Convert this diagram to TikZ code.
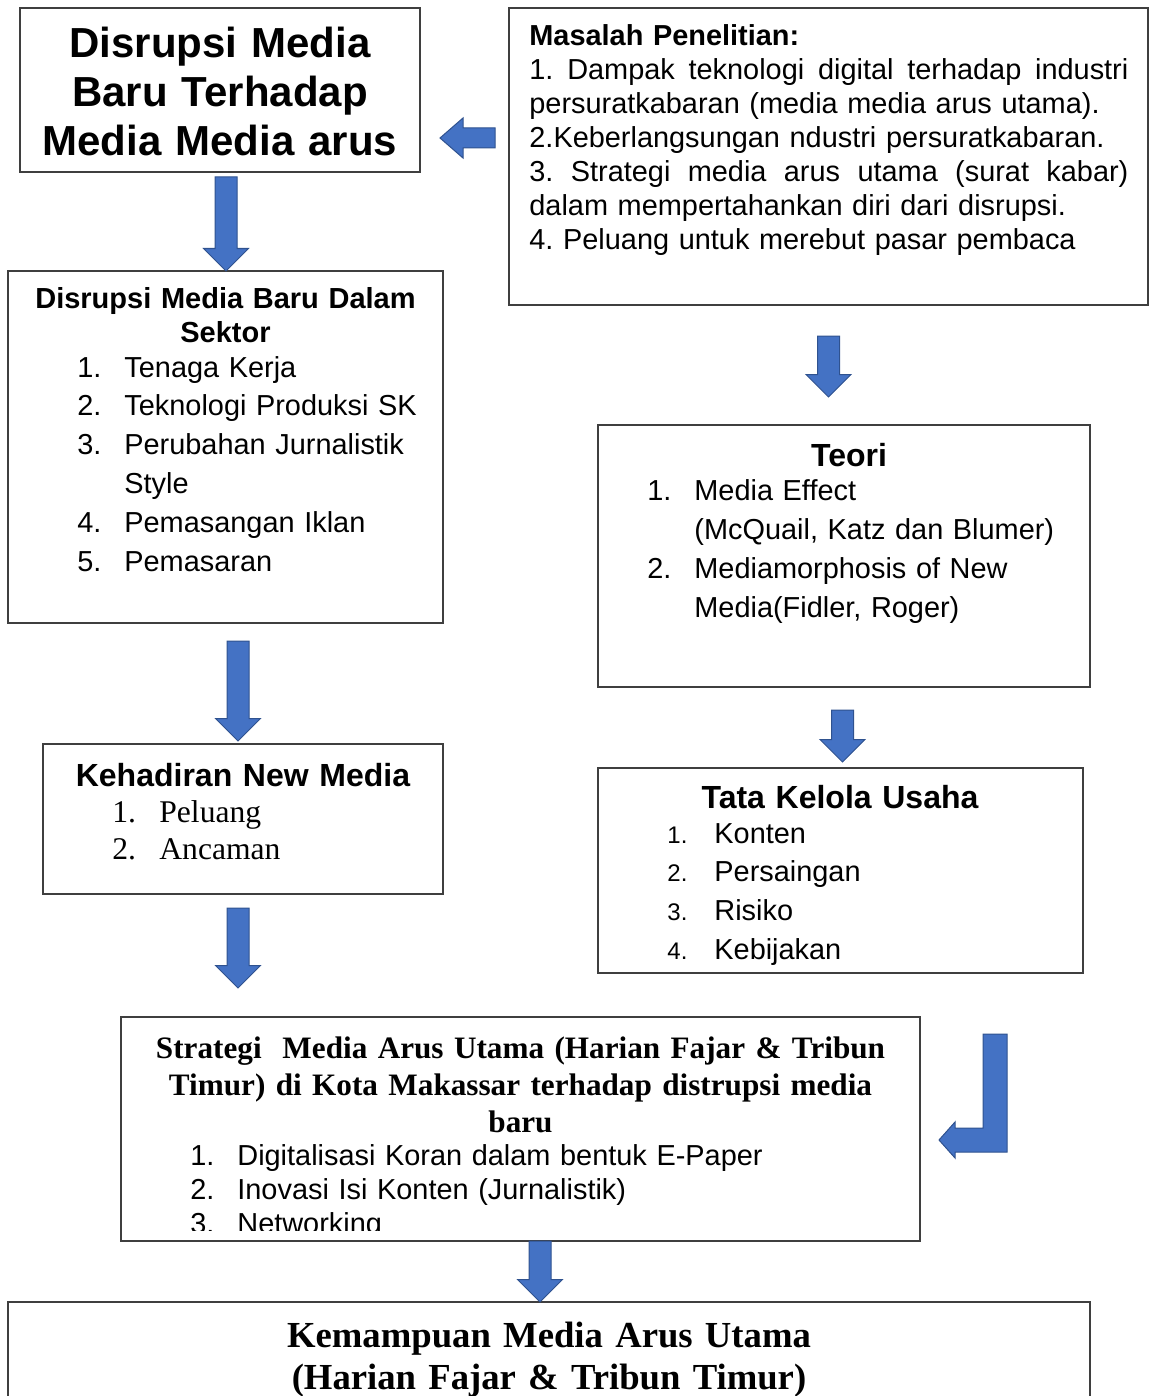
\documentclass[tikz,border=0pt]{standalone}
\usepackage{fontspec}
\setmainfont{Liberation Sans}
\newfontfamily\timesfont{Liberation Serif}
\usepackage{tikz}
\usetikzlibrary{calc,positioning}
\frenchspacing
\definecolor{boxgray}{HTML}{3F3F3F}
\definecolor{arrowfill}{HTML}{4472C4}
\definecolor{arrowedge}{HTML}{2F528F}
\newcommand{\itemno}[1]{\makebox[23.5pt][l]{#1}}
\tikzset{
boxframe/.style={
  draw=boxgray,
  line width=0.65pt,
  inner sep=0pt,
  outer sep=0pt,
  anchor=north west
  },
heading/.style={
  inner sep=0pt,
  anchor=base,
  align=center,
  font=\bfseries\fontsize{16}{18.5}\selectfont
  },
itemlist/.style={
  inner sep=0pt,
  anchor=base west,
  align=left,
  text width=#1,
  font=\fontsize{14.45}{19.4}\selectfont
  },
itemlist/.default=200pt,
downarrow/.style={
  draw=arrowedge,
  fill=arrowfill,
  line width=0.5pt,
  to path={let \p1=(\tikztostart), \p2=(\tikztotarget) in
    (\x1-5.5pt,\y1) -- (\x1+5.5pt,\y1) -- (\x1+5.5pt,\y2+11.25pt) -- (\x1+11.25pt,\y2+11.25pt)
    -- (\x1,\y2) -- (\x1-11.25pt,\y2+11.25pt) -- (\x1-5.5pt,\y2+11.25pt) -- cycle}
  },
leftarrow/.style={
  draw=arrowedge,
  fill=arrowfill,
  line width=0.5pt,
  to path={let \p1=(\tikztostart), \p2=(\tikztotarget) in
    (\x1,\y1+5pt) -- (\x2+11.5pt,\y1+5pt) -- (\x2+11.5pt,\y1+10pt) -- (\x2,\y1)
    -- (\x2+11.5pt,\y1-10pt) -- (\x2+11.5pt,\y1-5pt) -- (\x1,\y1-5pt) -- cycle}
  },
bentarrow/.style={
  draw=arrowedge,
  fill=arrowfill,
  line width=0.5pt,
  to path={let \p1=(\tikztostart), \p2=(\tikztotarget) in
    (\x1-6pt,\y1) -- (\x1+6pt,\y1) -- (\x1+6pt,\y2-6pt) -- (\x2+8pt,\y2-6pt) -- (\x2+8pt,\y2-9pt)
    -- (\x2,\y2) -- (\x2+8pt,\y2+9pt) -- (\x2+8pt,\y2+6pt) -- (\x1-6pt,\y2+6pt) -- cycle}
  }
}

\begin{document}
\begin{tikzpicture}[x=0.5pt,y=-0.5pt]
            \useasboundingbox (0,0) rectangle (1149,1396);
            \node[boxframe,minimum width=200pt,minimum height=82pt] (dis) at (20,8) {};
            \node[boxframe,minimum width=319.5pt,minimum height=148.5pt] (masalah) at (509,8) {};
            \node[boxframe,minimum width=217.5pt,minimum height=176pt] (sektor) at (8,271) {};
            \node[boxframe,minimum width=246pt,minimum height=131pt] (teori) at (598,425) {};
            \node[boxframe,minimum width=200pt,minimum height=75pt] (kehadiran) at (43,744) {};
            \node[boxframe,minimum width=242.5pt,minimum height=102.5pt] (tata) at (598,768) {};
            \node[boxframe,minimum width=399.5pt,minimum height=112pt] (strategi) at (121,1017) {};
            \node[boxframe,minimum width=541pt,minimum height=69pt] (kemampuan) at (8,1302) {};

            \node[heading,text width=200pt,font=\bfseries\fontsize{21}{24.5}\selectfont] (distitle) at (220,58)
                {Disrupsi Media\\Baru Terhadap\\Media Media arus};

            \node[itemlist=299.5pt,font=\fontsize{14.45}{16.95}\selectfont] (masalahtext) at (529,46)
                {\textbf{Masalah Penelitian:}\\
                1.\hfill Dampak\hfill teknologi\hfill digital\hfill terhadap\hfill industri\\
                persuratkabaran (media media arus utama).\\
                2.Keberlangsungan ndustri persuratkabaran.\\
                3.\hfill Strategi\hfill media\hfill arus\hfill utama\hfill (surat\hfill kabar)\\
                dalam mempertahankan diri dari disrupsi.\\
                4. Peluang untuk merebut pasar pembaca};

            \node[heading,text width=217.5pt,font=\bfseries\fontsize{14.5}{17}\selectfont] (sektortitle) at (225.5,308)
                {Disrupsi Media Baru Dalam\\Sektor};
            \node[itemlist=180pt] (sektorlist) at (77,377)
                {\itemno{1.}Tenaga Kerja\\
                \itemno{2.}Teknologi Produksi SK\\
                \itemno{3.}Perubahan Jurnalistik\\
                \hspace*{23.5pt}Style\\
                \itemno{4.}Pemasangan Iklan\\
                \itemno{5.}Pemasaran};

            \node[heading,text width=100pt] (teorititle) at (849,466) {Teori};
            \node[itemlist=220pt,font=\fontsize{14.45}{19.5}\selectfont] (teorilist) at (647,500)
                {\itemno{1.}Media Effect\\
                \hspace*{23.5pt}(McQuail, Katz dan Blumer)\\
                \itemno{2.}Mediamorphosis of New\\
                \hspace*{23.5pt}Media(Fidler, Roger)};

            \node[heading,text width=200pt] (kehadirantitle) at (243,786) {Kehadiran New Media};
            \node[itemlist=150pt,font=\timesfont\fontsize{15.8}{18.5}\selectfont] (kehadiranlist) at (112,822)
                {\itemno{1.}Peluang\\
                \itemno{2.}Ancaman};

            \node[heading,text width=240pt] (tatatitle) at (840,808) {Tata Kelola Usaha};
            \node[itemlist=150pt,font=\fontsize{14.45}{19.35}\selectfont] (tatalist) at (667,843)
                {\itemno{\fontsize{12}{12}\selectfont 1.}Konten\\
                \itemno{\fontsize{12}{12}\selectfont 2.}Persaingan\\
                \itemno{\fontsize{12}{12}\selectfont 3.}Risiko\\
                \itemno{\fontsize{12}{12}\selectfont 4.}Kebijakan};

            \node[heading,text width=399.5pt,font=\timesfont\bfseries\fontsize{15.6}{18.5}\selectfont] (strategititle) at (520.5,1058)
                {Strategi~ Media Arus Utama (Harian Fajar \& Tribun\\
                Timur) di Kota Makassar terhadap distrupsi media\\
                baru};
            \begin{scope}
                \clip (121,1017) rectangle (920,1230);
                \node[itemlist=330pt,font=\fontsize{14.45}{17}\selectfont] (strategilist) at (190,1165)
                    {\itemno{1.}Digitalisasi Koran dalam bentuk E-Paper\\
                    \itemno{2.}Inovasi Isi Konten (Jurnalistik)\\
                    \itemno{3.}Networking};
            \end{scope}

            \node[heading,text width=541pt,font=\timesfont\bfseries\fontsize{18.35}{21}\selectfont] (kemampuantitle) at (549,1347)
                {Kemampuan Media Arus Utama\\
                (Harian Fajar \& Tribun Timur)};

            \draw[leftarrow] ([xshift=-7pt,yshift=9.25pt]masalah.west) to ([xshift=10pt]dis.east);
            \draw[downarrow] ([xshift=3pt,yshift=-2.5pt]dis.south) to (sektor.north);
            \draw[downarrow] ([yshift=-15.5pt]masalah.south) to ([yshift=14pt]teori.north);
            \draw[downarrow] ([xshift=6.25pt,yshift=-9pt]sektor.south) to ([yshift=1.5pt]kehadiran.north);
            \draw[downarrow] ([xshift=-0.75pt,yshift=-11.5pt]teori.south) to ([yshift=3pt]tata.north);
            \draw[downarrow] ([xshift=-2.5pt,yshift=-7pt]kehadiran.south) to ([yshift=14.5pt]strategi.north);
            \draw[bentarrow] ([xshift=77.25pt,yshift=-30.5pt]tata.south) to ([xshift=9.5pt,yshift=-5.5pt]strategi.east);
            \draw[downarrow] ([xshift=9.75pt]strategi.south) to (kemampuan.north);
        \end{tikzpicture}
\end{document}
